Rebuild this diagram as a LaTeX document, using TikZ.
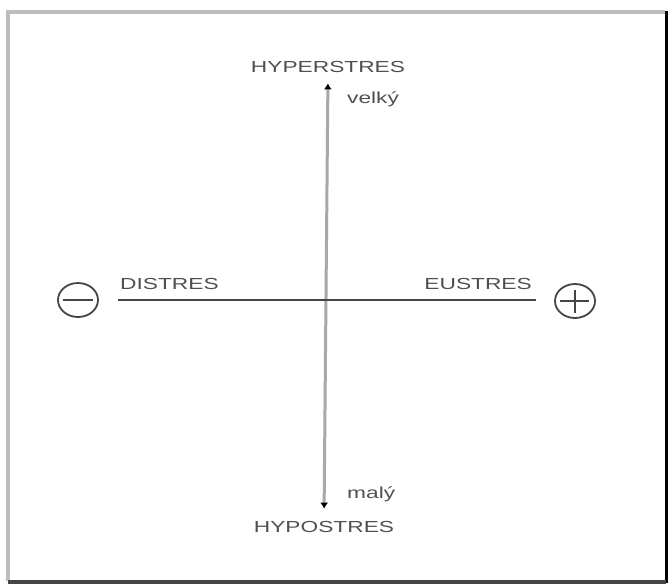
\documentclass[tikz,border=0pt]{standalone}
\usepackage{fontspec}
\setmainfont{Liberation Sans}
\newfontfamily\axefont[FakeStretch=1.42]{Liberation Sans}
\usetikzlibrary{arrows.meta,shapes.geometric}
\definecolor{texte}{HTML}{505050}
\definecolor{trait}{HTML}{454545}
\definecolor{fleche}{HTML}{A8A8A8}
\definecolor{cadre}{HTML}{BDBDBD}
\tikzset{
	etiq/.style={font=\axefont\fontsize{16}{18}\selectfont, text=texte, inner sep=0pt},
	signe/.style={draw=trait, line width=1.8pt, ellipse, minimum width=40pt, minimum height=34pt, inner sep=0pt}
}
\begin{document}
\begin{tikzpicture}[x=1pt,y=-1pt]
				\useasboundingbox (0,0) rectangle (668,584);
				% cadre avec ombre
				\draw[cadre, line width=4.5pt] (8,581)--(8,12)--(665,12);
				\draw[black, line width=3pt] (666,11)--(666,583);
				\draw[trait, line width=4pt] (8,582)--(666,582);
					\node[etiq, anchor=base] (hyper) at (328,72) {HYPERSTRES};
					\node[etiq, anchor=base] (hypo) at (324,532) {HYPOSTRES};
					\node[etiq, anchor=base west] (dis) at (120,289) {DISTRES};
					\node[etiq, anchor=base east] (eu) at (532,289) {EUSTRES};
					\node[etiq, anchor=base west] (velky) at (347,103) {velký};
					\node[etiq, anchor=base west] (maly) at (347,498) {malý};
					% les deux signes
					\node[signe] (moins) at (78,300) {};
					\node[signe] (plus) at (575,301) {};
					\draw[trait, line width=2pt] (63,300)--(93,300);
					\draw[trait, line width=2pt] (560,301)--(589,301) (575,290)--(575,313);
					% axes
					\draw[fleche, line width=3pt, {Latex[black,length=6pt,width=8pt]}-{Latex[black,length=6pt,width=8pt]}, shorten <=11pt, shorten >=12pt] (hyper.south)--(hypo.north);
					\draw[trait, line width=2.5pt, shorten <=19pt, shorten >=18pt] (moins.east|-0,300)--(plus.west|-0,300);
%					\draw (326,300) node{$\times$};
			\end{tikzpicture}
\end{document}
